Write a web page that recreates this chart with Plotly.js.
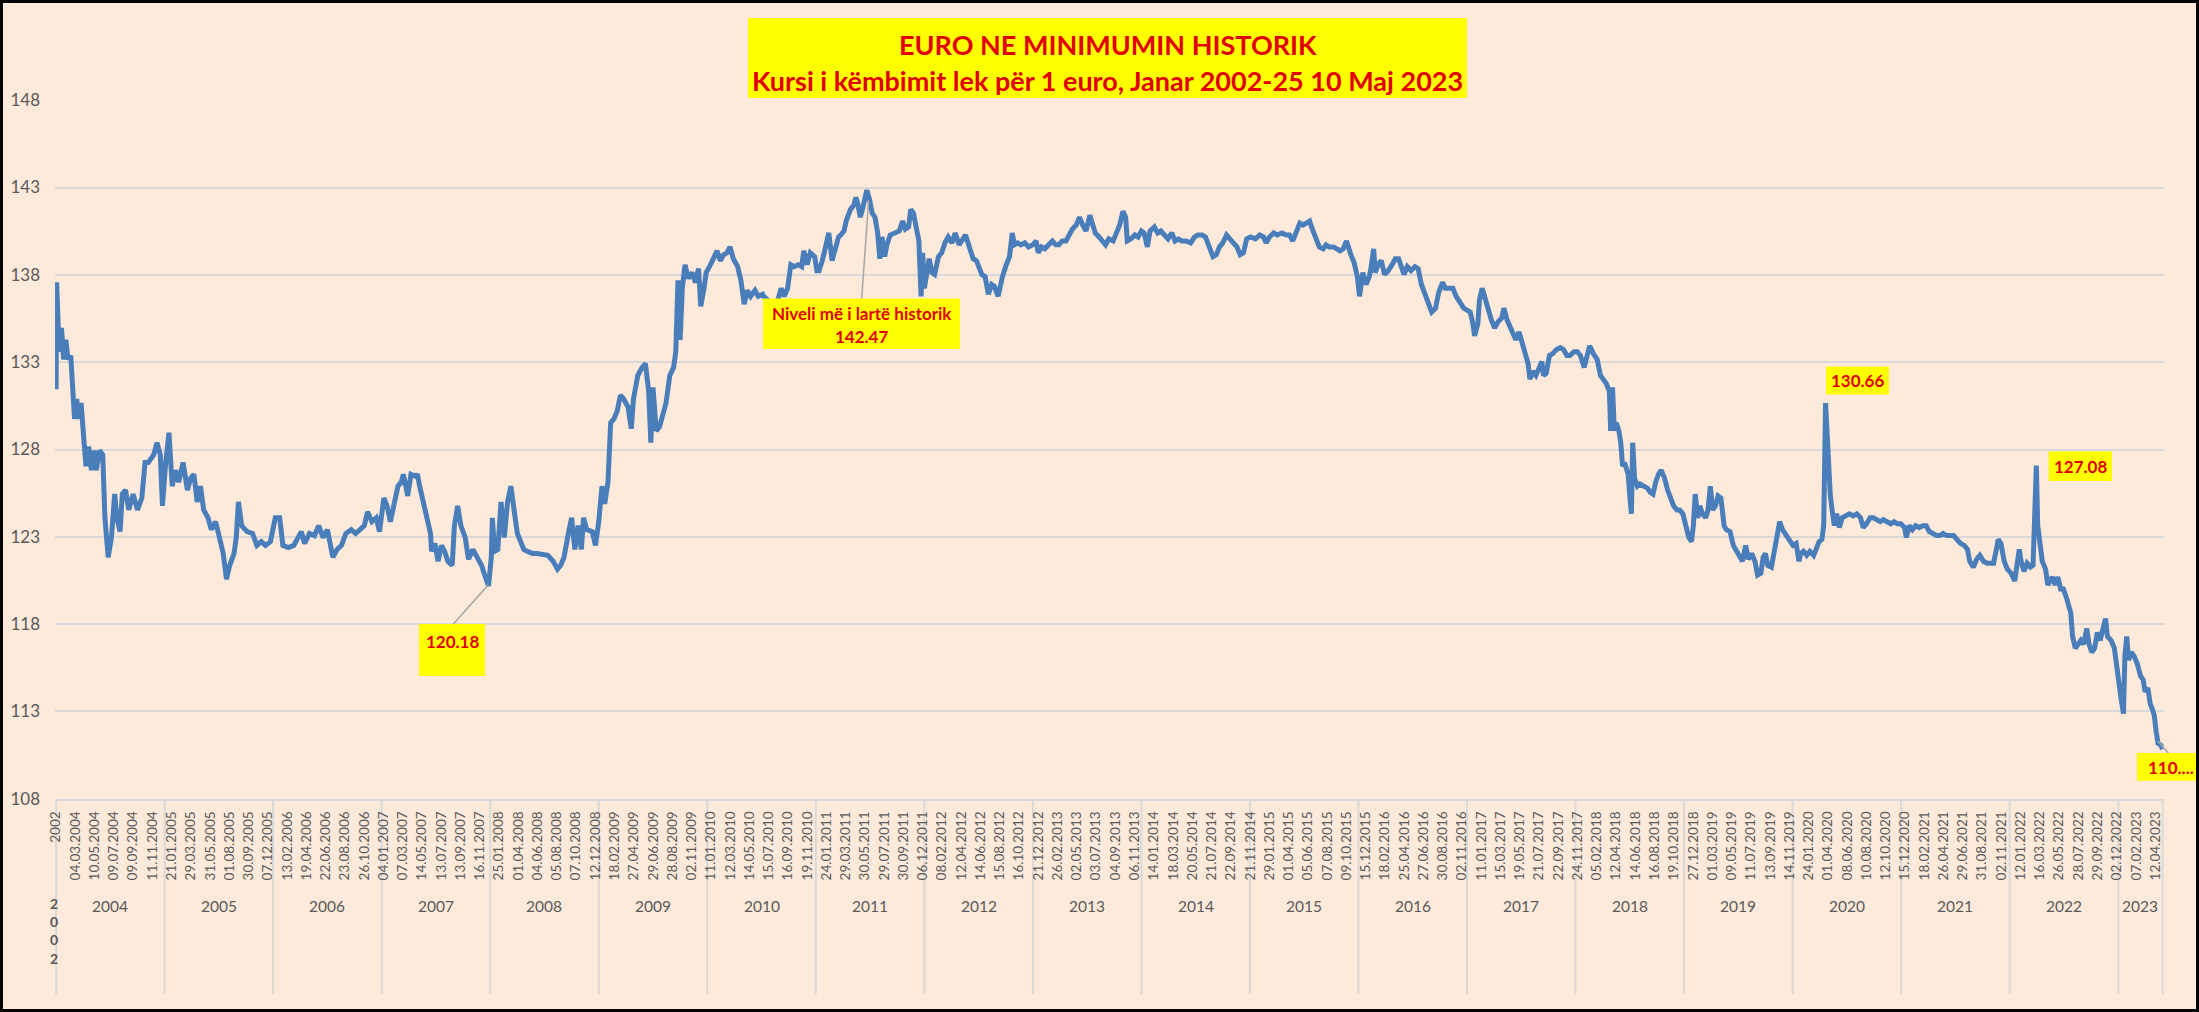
<!DOCTYPE html>
<html>
<head>
<meta charset="utf-8">
<script src="https://cdn.plot.ly/plotly-3.0.1.min.js"></script>
<style>
html,body{margin:0;padding:0;background:#FDEADA;}
#chart{width:2199px;height:1012px;}
</style>
</head>
<body>
<div id="chart"></div>
<script>
// ---------------- DATA ----------------
// x = position on the (category-style) time axis in years, y = lek per 1 euro
const posA = [
2004.000,2004.005,2004.02,2004.04,2004.05,2004.07,2004.09,2004.11,2004.135,2004.16,
2004.17,2004.19,2004.21,2004.23,2004.25,2004.275,2004.30,2004.325,2004.35,2004.37,
2004.40,2004.43,2004.45,2004.48,2004.51,2004.54,2004.56,2004.59,2004.61,2004.64,
2004.67,2004.71,2004.75,2004.79,2004.82,2004.85,2004.90,2004.93,2004.96,2004.98,
2005.01,2005.04,2005.07,2005.10,2005.13,2005.17,2005.21,2005.24,2005.27,2005.30,
2005.33,2005.36,2005.40,2005.43,2005.47,2005.51,2005.54,2005.57,2005.60,2005.64,
2005.66,2005.68,2005.71,2005.76,2005.81,2005.85,2005.89,2005.93,2005.975,2006.02,
2006.06,2006.09,2006.14,2006.19,2006.23,2006.26,2006.29,2006.335,2006.38,2006.42,
2006.46,2006.50,2006.55,2006.59,2006.63,2006.67,2006.72,2006.76,2006.80,2006.84,
2006.87,2006.91,2006.95,2006.98,2007.02,2007.05,2007.08,2007.12,2007.15,2007.18,
2007.20,2007.24,2007.27,2007.31,2007.33,2007.35,2007.38,2007.41,2007.45,2007.46,
2007.49,2007.52,2007.55,2007.58,2007.61,2007.65,2007.67,2007.70,2007.73,2007.77,
2007.80,2007.84,2007.88,2007.92,2007.955,2007.985,2008.01,2008.02,2008.04,2008.07,
2008.10,2008.13,2008.16,2008.19,2008.22,2008.25,2008.28,2008.31,2008.34,2008.39,
2008.43,2008.49,2008.53,2008.58,2008.62,2008.65,2008.68,2008.72,2008.75,2008.78,
2008.81,2008.84,2008.86,2008.89,2008.94,2008.97,2009.00,2009.03,2009.055,2009.085,
2009.11,2009.14,2009.17,2009.20,2009.23,2009.27,2009.30,2009.32,2009.36,2009.40,
2009.43,2009.46,2009.48,2009.50,2009.53,2009.56,2009.59,2009.62,2009.655,2009.69,
2009.71,2009.73,2009.75,2009.77,2009.795,2009.825,2009.86,2009.89,2009.92,2009.94,
2009.97,2009.99,2010.03,2010.06,2010.09,2010.12,2010.15,2010.18,2010.21,2010.24,
2010.28,2010.31,2010.34,2010.37,2010.40,2010.44,2010.47,2010.51
];
const lekA = [
131.45,137.57,134.96,133.6,134.96,133.15,134.28,133.15,133.38,131.34,
129.75,130.89,129.75,130.66,129.3,127.04,128.17,126.81,127.94,126.81,
127.94,127.71,124.09,121.83,122.96,125.45,124.09,123.3,125.45,125.68,
124.54,125.45,124.54,125.22,127.26,127.26,127.71,128.39,127.71,124.77,
127.26,128.96,125.9,126.81,126.13,127.26,125.68,126.36,126.58,125.0,
125.9,124.54,124.09,123.41,123.87,122.96,122.05,120.58,121.37,122.05,
122.96,125.0,123.64,123.3,123.19,122.51,122.73,122.51,122.73,124.09,
124.09,122.51,122.39,122.51,122.96,123.3,122.62,123.19,123.07,123.64,
122.96,123.41,121.83,122.28,122.51,123.19,123.41,123.19,123.41,123.64,
124.43,123.87,124.09,123.3,125.22,124.77,123.87,125.22,125.9,126.13,
126.58,125.34,126.58,126.47,126.58,125.9,125.0,124.32,123.19,122.17,
122.62,121.6,122.51,122.17,121.6,121.37,123.64,124.77,123.64,122.96,
121.71,122.28,121.83,121.37,120.7,120.18,121.83,124.09,122.17,122.28,
125.0,122.96,125.0,125.9,124.54,123.19,122.73,122.28,122.17,122.05,
122.05,121.94,121.94,121.6,121.15,121.37,121.83,123.19,124.09,122.28,
123.64,122.28,124.09,123.41,123.3,122.51,123.87,125.9,124.88,126.13,
129.53,129.75,130.21,131.11,130.89,130.43,129.19,130.89,132.24,132.7,
132.92,131.34,128.39,131.56,129.07,129.3,129.98,130.66,132.24,132.7,
133.6,137.68,134.28,137.23,138.58,137.79,138.13,137.57,138.36,136.2,
137.23,138.13,138.58,138.92,139.38,138.81,139.15,139.26,139.6,138.92,
138.47,137.68,136.32,137.11,136.77,137.11,136.77,136.89
];
const posB = [
2010.52,2010.56,2010.61,2010.65,2010.68,2010.71,2010.74,2010.77,2010.80,2010.84,
2010.87,2010.89,2010.92,2010.95,2010.99,2011.01,2011.03,2011.06,2011.09,2011.12,
2011.15,2011.18,2011.21,2011.23,2011.26,2011.28,2011.32,2011.35,2011.37,2011.39,
2011.41,2011.43,2011.45,2011.47,2011.495,2011.52,2011.545,2011.57,2011.59,2011.61,
2011.635,2011.655,2011.685,2011.73,2011.77,2011.80,2011.825,2011.855,2011.875,2011.90,
2011.925,2011.95,2011.97,2011.985,2012.00,2012.02,2012.045,2012.07,2012.095,2012.13,
2012.16,2012.19,2012.22,2012.255,2012.285,2012.32,2012.35,2012.38,2012.42,2012.45,
2012.48,2012.51,2012.53,2012.56,2012.59,2012.62,2012.645,2012.68,2012.70,2012.72,
2012.755,2012.785,2012.81,2012.83,2012.86,2012.89,2012.925,2012.96,2013.00,2013.03,
2013.05,2013.08,2013.11,2013.145,2013.18,2013.21,2013.24,2013.27,2013.305,2013.335,
2013.365,2013.40,2013.43,2013.46,2013.49,2013.525,2013.545,2013.575,2013.61,2013.645,
2013.67,2013.70,2013.74,2013.77,2013.80,2013.83,2013.855,2013.87,2013.905,2013.94,
2013.97,2014.00,2014.025,2014.055,2014.08,2014.12,2014.15,2014.18,2014.21,2014.245,
2014.28,2014.31,2014.34,2014.37,2014.41,2014.455,2014.49,2014.52,2014.56,2014.59,
2014.625,2014.66,2014.69,2014.72,2014.75,2014.785,2014.815,2014.845,2014.88,2014.91,
2014.94,2014.97,2015.005,2015.05,2015.09,2015.125,2015.15,2015.18,2015.22,2015.25,
2015.295,2015.335,2015.365,2015.395,2015.43,2015.46,2015.49,2015.52,2015.55,2015.575,
2015.605,2015.64,2015.675,2015.70,2015.73,2015.77,2015.80,2015.83,2015.86,2015.89,
2015.93,2015.96,2015.99,2016.01,2016.04,2016.07,2016.10,2016.115,2016.14,2016.155,
2016.18,2016.21,2016.24,2016.275,2016.31,2016.34,2016.37,2016.395,2016.42,2016.45,
2016.485,2016.52,2016.55,2016.58,2016.61,2016.645,2016.675,2016.71,2016.74,2016.775,
2016.80,2016.83,2016.87,2016.90,2016.93
];
const lekB = [
136.77,136.55,136.32,136.55,137.23,136.77,137.23,138.58,138.47,138.58,
138.47,139.38,138.58,139.26,139.04,138.24,138.24,138.81,139.49,140.4,
138.81,139.49,140.17,140.28,140.51,141.08,141.75,141.98,142.43,141.98,
141.3,141.75,142.43,142.85,142.32,141.53,141.3,140.4,138.92,140.17,
139.04,139.72,140.28,140.4,140.51,141.08,140.62,140.74,141.75,141.53,
140.85,139.94,136.77,139.26,137.23,137.9,138.92,138.13,138.02,139.04,
139.26,139.83,140.17,139.83,140.4,139.72,140.06,140.28,139.49,138.92,
138.81,138.36,138.02,137.9,136.89,137.45,137.34,136.77,137.45,137.9,
138.58,139.04,140.4,139.72,139.83,139.72,139.83,139.6,139.72,139.94,
139.26,139.6,139.49,139.72,139.94,139.72,139.72,139.94,139.94,140.28,
140.62,140.85,141.3,140.85,140.51,141.41,140.96,140.4,140.17,139.94,
139.72,140.06,139.94,140.4,140.85,141.64,141.3,139.94,140.06,140.28,
140.17,140.51,140.4,139.6,140.51,140.74,140.4,140.51,140.28,140.06,
140.4,139.94,140.06,139.94,139.94,139.83,140.17,140.28,140.28,140.17,
139.6,139.04,139.15,139.6,139.83,140.28,140.06,139.83,139.6,139.15,
139.26,140.06,140.17,140.06,140.28,140.17,139.83,140.17,140.4,140.28,
140.4,140.28,140.28,139.94,140.51,140.96,140.85,140.96,141.08,140.62,
140.06,139.6,139.49,139.72,139.6,139.6,139.49,139.38,139.49,139.94,
139.15,138.7,137.9,136.77,138.13,137.45,137.9,138.36,139.49,138.13,
138.58,138.81,138.02,138.24,138.58,138.92,138.92,138.47,138.02,138.47,
138.24,138.47,138.36,137.45,137.0,136.32,135.87,136.09,137.0,137.57,
137.23,137.23,137.23,136.77,136.43
];
const posC = [
2016.97,2017.00,2017.03,2017.055,2017.07,2017.10,2017.115,2017.14,2017.17,2017.20,
2017.225,2017.255,2017.285,2017.32,2017.34,2017.37,2017.395,2017.42,2017.45,2017.48,
2017.51,2017.54,2017.563,2017.58,2017.605,2017.635,2017.665,2017.69,2017.705,2017.73,
2017.76,2017.79,2017.825,2017.86,2017.89,2017.92,2017.95,2017.986,2018.016,2018.045,
2018.08,2018.105,2018.13,2018.164,2018.2,2018.23,2018.257,2018.282,2018.312,2018.324,
2018.341,2018.358,2018.375,2018.4,2018.417,2018.434,2018.451,2018.468,2018.485,2018.502,
2018.515,2018.527,2018.544,2018.57,2018.595,2018.629,2018.663,2018.688,2018.714,2018.739,
2018.764,2018.79,2018.82,2018.849,2018.874,2018.904,2018.934,2018.959,2018.989,2019.018,
2019.044,2019.069,2019.086,2019.103,2019.128,2019.145,2019.17,2019.2,2019.221,2019.242,
2019.264,2019.289,2019.314,2019.34,2019.369,2019.39,2019.424,2019.454,2019.475,2019.509,
2019.538,2019.568,2019.593,2019.623,2019.653,2019.678,2019.708,2019.729,2019.75,2019.771,
2019.805,2019.835,2019.856,2019.881,2019.907,2019.94,2019.974,2020.004,2020.033,2020.059,
2020.076,2020.101,2020.131,2020.16,2020.194,2020.22,2020.245,2020.27,2020.287,2020.304,
2020.313,2020.33,2020.347,2020.364,2020.385,2020.406,2020.431,2020.457,2020.49,2020.524,
2020.558,2020.592,2020.626,2020.651,2020.681,2020.715,2020.744,2020.778,2020.808,2020.837,
2020.871,2020.905,2020.935,2020.964,2020.998,2021.032,2021.049,2021.074,2021.104,2021.133,
2021.167,2021.201,2021.231,2021.26,2021.294,2021.328,2021.357,2021.387,2021.421,2021.455,
2021.484,2021.514,2021.548,2021.582,2021.611,2021.633,2021.666,2021.696,2021.726,2021.759,
2021.793,2021.823,2021.852,2021.878,2021.895,2021.92,2021.95,2021.979,2022.013,2022.047,
2022.064,2022.089,2022.106,2022.132,2022.161,2022.191,2022.216,2022.233,2022.246,2022.259,
2022.276,2022.301,2022.331,2022.352,2022.373,2022.394,2022.419,2022.445,2022.47,2022.495,
2022.521,2022.546,2022.563,2022.58,2022.605,2022.631,2022.656,2022.681,2022.711,2022.732,
2022.757,2022.783,2022.808,2022.834,2022.859,2022.884,2022.901,2022.935,2022.965,2022.986,
2023.007,2023.028,2023.049,2023.062,2023.079,2023.096,2023.121,2023.147,2023.177,2023.206,
2023.231,2023.248,2023.274,2023.295,2023.316,2023.333,2023.35,2023.367,2023.393,2023.41
];
const lekC = [
136.09,135.98,135.87,135.19,134.51,135.19,136.55,137.23,136.55,136.09,
135.41,134.96,135.3,135.53,136.09,135.41,135.07,134.73,134.28,134.73,
134.06,133.6,132.92,132.02,132.47,132.24,132.7,133.04,132.24,132.36,
133.38,133.49,133.72,133.83,133.72,133.38,133.38,133.6,133.6,133.38,
132.7,133.38,133.94,133.49,133.15,132.24,132.02,131.79,131.34,129.07,
131.56,129.07,129.53,129.07,128.39,127.04,127.26,126.81,126.58,125.22,
124.32,128.39,126.36,125.9,126.02,125.9,125.79,125.56,125.45,126.13,
126.58,126.81,126.36,125.68,125.22,124.77,124.54,124.54,124.32,123.64,
122.96,122.73,123.64,125.45,124.09,124.77,124.32,124.09,124.54,125.9,
124.54,124.77,125.34,125.22,123.64,123.41,123.3,122.51,122.28,121.83,
121.6,122.51,121.71,122.05,121.6,120.81,120.92,121.83,122.05,121.37,
121.26,122.28,123.19,123.87,123.41,123.07,122.85,122.51,122.62,121.6,
122.05,122.17,121.94,122.17,121.94,122.28,122.73,122.85,123.64,130.66,
129.53,126.58,125.45,124.54,123.64,124.32,123.53,124.09,124.2,124.32,
124.2,124.32,124.09,123.53,123.75,124.09,124.09,123.98,123.87,123.98,
123.87,123.75,123.87,123.75,123.75,123.53,122.96,123.64,123.41,123.64,
123.53,123.64,123.64,123.3,123.19,123.07,123.07,123.19,123.07,123.07,
123.07,122.85,122.62,122.51,122.28,121.6,121.26,121.71,121.94,121.6,
121.49,121.49,121.49,122.28,122.85,122.62,121.6,121.15,120.92,120.47,
121.15,122.28,121.6,121.03,121.49,121.26,121.37,124.77,127.08,123.64,
122.73,121.6,121.15,120.24,120.47,120.7,120.24,120.7,120.02,120.02,
119.56,119.11,118.66,117.3,116.62,116.85,117.07,116.85,117.75,116.85,
116.39,116.62,117.52,117.07,117.75,118.32,117.3,117.07,116.62,115.49,
114.58,113.68,112.88,116.17,117.3,115.94,116.39,116.17,115.71,115.03,
114.81,114.13,114.35,113.45,113.11,112.77,111.86,111.18,111.07,110.84
];

// tick labels of the category axis (every 43rd category)
const dateLabels = ['2002','04.03.2004','10.05.2004','09.07.2004','09.09.2004','11.11.2004',
'21.01.2005','29.03.2005','31.05.2005','01.08.2005','30.09.2005','07.12.2005',
'13.02.2006','19.04.2006','22.06.2006','23.08.2006','26.10.2006',
'04.01.2007','07.03.2007','14.05.2007','13.07.2007','13.09.2007','16.11.2007',
'25.01.2008','01.04.2008','04.06.2008','05.08.2008','07.10.2008','12.12.2008',
'18.02.2009','27.04.2009','29.06.2009','28.08.2009','02.11.2009',
'11.01.2010','12.03.2010','14.05.2010','15.07.2010','16.09.2010','19.11.2010',
'24.01.2011','29.03.2011','30.05.2011','29.07.2011','30.09.2011','06.12.2011',
'08.02.2012','12.04.2012','14.06.2012','15.08.2012','16.10.2012','21.12.2012',
'26.02.2013','02.05.2013','03.07.2013','04.09.2013','06.11.2013',
'14.01.2014','18.03.2014','20.05.2014','21.07.2014','22.09.2014','21.11.2014',
'29.01.2015','01.04.2015','05.06.2015','07.08.2015','09.10.2015','15.12.2015',
'18.02.2016','25.04.2016','27.06.2016','30.08.2016','02.11.2016',
'11.01.2017','15.03.2017','19.05.2017','21.07.2017','22.09.2017','24.11.2017',
'05.02.2018','12.04.2018','14.06.2018','16.08.2018','19.10.2018','27.12.2018',
'01.03.2019','09.05.2019','11.07.2019','13.09.2019','14.11.2019',
'24.01.2020','01.04.2020','08.06.2020','10.08.2020','12.10.2020','15.12.2020',
'18.02.2021','26.04.2021','29.06.2021','31.08.2021','02.11.2021',
'12.01.2022','16.03.2022','26.05.2022','28.07.2022','29.09.2022','02.12.2022',
'07.02.2023','12.04.2023'];

const yearGroups = ['2004','2005','2006','2007','2008','2009','2010','2011','2012','2013',
'2014','2015','2016','2017','2018','2019','2020','2021','2022','2023'];
const firstGroup = '2002';

const titleLine1 = 'EURO NE MINIMUMIN HISTORIK';
const titleLine2 = 'Kursi i këmbimit lek për 1 euro, Janar 2002-25 10 Maj 2023';
const maxLabel = 'Niveli më i lartë historik';
const maxValue = '142.47';
const minValue2007 = '120.18';
const spike2020 = '130.66';
const spike2022 = '127.08';
const lastValue = '110....';

// ---------------- BUILD ----------------
const pos = posA.concat(posB, posC);
const lek = lekA.concat(lekB, lekC);

const W = 2199, H = 1012;
const M = {l:55, r:35, t:100, b:213};
const PW = W - M.l - M.r, PH = H - M.t - M.b;
const px = v => (v - M.l) / PW;          // pixel x -> paper
const py = v => (M.t + PH - v) / PH;     // pixel y -> paper

const xStart = 2004, tickStep = 0.17746;
const tickvals = dateLabels.map((_, i) => xStart + i * tickStep);
const xEnd = pos[pos.length - 1];

const RED = '#E10000', YEL = '#FFFF00', GREY = '#595959', GRID = '#D9D9D9';
const FONT = 'Lato, "Open Sans", sans-serif';

const shapes = [];
const annotations = [];

// year separators below the axis
const bounds = yearGroups.map(y => +y).concat([xEnd]);
bounds.forEach(b => shapes.push({type:'line', xref:'x', yref:'paper', x0:b, x1:b,
  y0:0, y1:py(994), line:{color:GRID, width:2}, layer:'below'}));

// year group labels
yearGroups.forEach((y, i) => {
  annotations.push({xref:'x', yref:'paper', x:(bounds[i] + bounds[i+1]) / 2, y:py(906),
    text:y, showarrow:false, xanchor:'center', yanchor:'middle',
    font:{family:FONT, size:15.5, color:GREY}});
});
annotations.push({xref:'paper', yref:'paper', x:px(54), y:py(931),
  text:'<b>' + firstGroup.split('').join('<br>') + '</b>', showarrow:false,
  xanchor:'center', yanchor:'middle', font:{family:FONT, size:14, color:GREY}});

// yellow label boxes (pixel rects converted to paper)
function box(x0, y0, x1, y1) {
  shapes.push({type:'rect', xref:'paper', yref:'paper', x0:px(x0), x1:px(x1),
    y0:py(y1), y1:py(y0), fillcolor:YEL, line:{width:0}, layer:'above'});
}
function label(text, x, y, size) {
  annotations.push({xref:'paper', yref:'paper', x:px(x), y:py(y), text:'<b>' + text + '</b>',
    showarrow:false, xanchor:'center', yanchor:'middle',
    font:{family:FONT, size:size, color:RED}});
}
function leader(x0, y0, x1, y1) {
  shapes.push({type:'line', xref:'x', yref:'y', x0:x0, y0:y0, x1:x1, y1:y1,
    line:{color:'#A6A6A6', width:1.5}, layer:'above'});
}

// title
box(748, 18, 1467, 98);
label(titleLine1, 1107.5, 44, 27);
label(titleLine2, 1107.5, 80, 27);

// minimum 2007
leader(2007.658, 117.99, 2007.984, 120.25);
box(419, 624, 485, 676);
label(minValue2007, 452, 641, 17);

// historic maximum
leader(2011.423, 136.64, 2011.487, 142.3);
box(763, 298.5, 960, 349);
label(maxLabel, 861.5, 313, 17);
label(maxValue, 861.5, 336, 17);

// 2020 spike
box(1826, 366.4, 1889, 394.5);
label(spike2020, 1857, 380.7, 17);

// 2022 spike
box(2048.6, 451.4, 2112, 481);
label(spike2022, 2080.8, 466.4, 17);

// last value
shapes.push({type:'line', xref:'paper', yref:'paper', x0:px(2158), y0:py(741),
  x1:px(2169), y1:py(754), line:{color:'#A6A6A6', width:1.5}, layer:'above'});
box(2137, 753, 2196, 780.7);
label(lastValue, 2171, 767, 17);

// outer black frame
shapes.push({type:'rect', xref:'paper', yref:'paper',
  x0:px(1.5), x1:px(W - 1.5), y0:py(H - 1.5), y1:py(1.5),
  line:{color:'#000000', width:3}, fillcolor:'rgba(0,0,0,0)', layer:'above'});

const trace = {
  type:'scatter', mode:'lines', x:pos, y:lek,
  line:{color:'#4A7EBB', width:5, shape:'linear'},
  hoverinfo:'skip', cliponaxis:true
};

const layout = {
  width:W, height:H,
  margin:{l:M.l, r:M.r, t:M.t, b:M.b, pad:0},
  paper_bgcolor:'#FDEADA', plot_bgcolor:'#FDEADA',
  showlegend:false,
  font:{family:FONT, color:GREY},
  xaxis:{
    range:[2003.99, 2003.99 + PW / 108.53],
    tickmode:'array', tickvals:tickvals, ticktext:dateLabels,
    tickangle:-90, tickfont:{family:FONT, size:13.5, color:GREY},
    showgrid:false, zeroline:false, showline:true, linecolor:GRID, linewidth:2,
    ticks:'', ticklabelstandoff:5, fixedrange:true, automargin:false
  },
  yaxis:{
    range:[107.99, 148.01], tickmode:'linear', tick0:108, dtick:5,
    showgrid:true, gridcolor:GRID, gridwidth:2, zeroline:false, showline:false,
    ticks:'', tickfont:{family:FONT, size:17, color:GREY},
    ticklabelstandoff:14, fixedrange:true, automargin:false
  },
  shapes:shapes,
  annotations:annotations
};

Plotly.newPlot('chart', [trace], layout, {displayModeBar:false, staticPlot:true});
</script>
</body>
</html>
